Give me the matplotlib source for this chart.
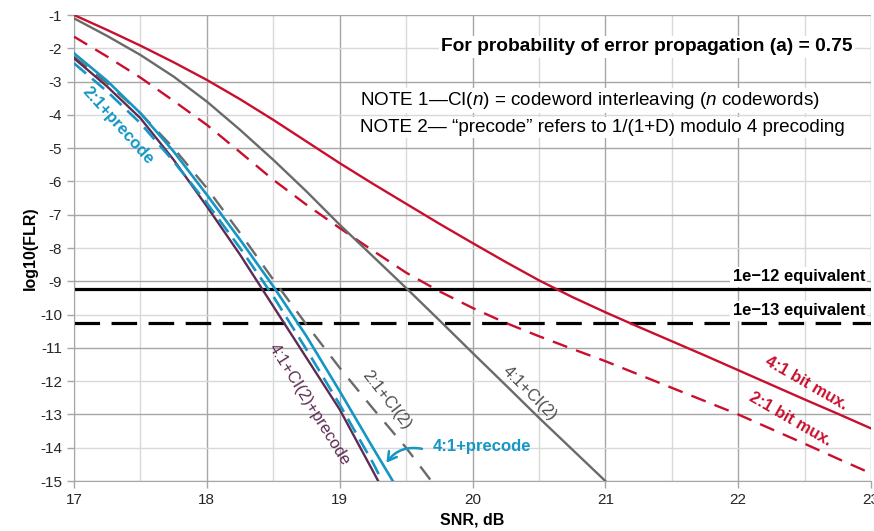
import matplotlib
matplotlib.use("Agg")
import matplotlib.pyplot as plt
from matplotlib.patches import FancyArrowPatch

plt.rcParams['font.family'] = ['Liberation Sans', 'DejaVu Sans']
plt.rcParams['mathtext.fontset'] = 'custom'
plt.rcParams['mathtext.rm'] = 'Liberation Sans'
plt.rcParams['mathtext.it'] = 'Liberation Sans:italic'
plt.rcParams['axes.unicode_minus'] = False

# SNR (dB) sample points and log10(FLR) for each scheme
snr_mux = [17, 17.25, 17.5, 17.75, 18, 18.25, 18.5, 18.75, 19, 19.25, 19.5, 19.75, 20,
           20.25, 20.5, 20.75, 21, 21.25, 21.5, 21.75, 22, 22.25, 22.5, 22.75, 23]
flr_4to1_mux = [-1.0, -1.45, -1.92, -2.42, -2.95, -3.53, -4.15, -4.8, -5.45, -6.07, -6.67,
                -7.27, -7.85, -8.42, -8.97, -9.47, -9.93, -10.37, -10.8, -11.23, -11.67,
                -12.11, -12.55, -12.98, -13.42]
flr_2to1_mux = [-1.65, -2.25, -2.88, -3.58, -4.3, -5.12, -5.95, -6.7, -7.4, -8.08, -8.74,
                -9.3, -9.8, -10.25, -10.65, -11.03, -11.4, -11.8, -12.2, -12.6, -13.0,
                -13.44, -13.88, -14.33, -14.77]

snr_4to1_ci2 = [17, 17.25, 17.5, 17.75, 18, 18.25, 18.5, 18.75, 19, 19.25, 19.5, 19.75,
                20, 20.25, 20.5, 20.75, 21]
flr_4to1_ci2 = [-1.1, -1.63, -2.2, -2.85, -3.6, -4.45, -5.35, -6.3, -7.3, -8.25, -9.2,
                -10.17, -11.15, -12.12, -13.1, -14.05, -15.0]

snr_2to1_ci2 = [17, 17.25, 17.5, 17.75, 18, 18.25, 18.5, 18.75, 19, 19.25, 19.5, 19.69]
flr_2to1_ci2 = [-2.25, -3.05, -3.95, -5.0, -6.2, -7.55, -8.95, -10.3, -11.6, -12.82, -14.0,
                -15.0]

snr_4to1_pre = [17, 17.25, 17.5, 17.75, 18, 18.25, 18.5, 18.75, 19, 19.25, 19.4]
flr_4to1_pre = [-2.15, -2.98, -3.95, -5.1, -6.4, -7.75, -9.15, -10.65, -12.3, -14.0, -15.0]

snr_2to1_pre = [17, 17.25, 17.5, 17.75, 18, 18.25, 18.5, 18.75, 19, 19.25, 19.32]
flr_2to1_pre = [-2.45, -3.3, -4.25, -5.4, -6.65, -8.0, -9.45, -11.05, -12.7, -14.45, -15.0]

snr_4to1_ci2_pre = [17, 17.25, 17.5, 17.75, 18, 18.25, 18.5, 18.75, 19, 19.25, 19.29]
flr_4to1_ci2_pre = [-2.3, -3.15, -4.1, -5.35, -6.75, -8.2, -9.75, -11.3, -12.85, -14.7, -15.0]

flr_1e12_equiv = -9.22
flr_1e13_equiv = -10.25

x_ticks = [17, 18, 19, 20, 21, 22, 23]
y_ticks = list(range(-15, 0))

RED = '#c8102e'
GREY = '#6a6a6a'
BLUE = '#1596c4'
PURPLE = '#5e2b55'

fig = plt.figure(figsize=(8.74, 5.31), dpi=100)
ax = fig.add_axes([74 / 874, 1 - 481 / 531, (871 - 74) / 874, (481 - 15) / 531])

ax.set_xlim(17, 23)
ax.set_ylim(-15, -1)

# grid: darker at integer SNR / odd log values, lighter in between
for x in [17.5 + i for i in range(6)]:
    ax.axvline(x, color='#d9d9d9', lw=1.0, zorder=0)
for x in x_ticks:
    ax.axvline(x, color='#a6a6a6', lw=1.0, zorder=0)
for y in y_ticks:
    ax.axhline(y, color='#a6a6a6' if y % 2 else '#d9d9d9', lw=1.0, zorder=0)

ax.set_xticks(x_ticks)
ax.set_yticks(y_ticks)
ax.tick_params(axis='both', colors='#a6a6a6', labelcolor='#262626', labelsize=11,
               length=5, width=1.0, direction='out')
for s in ['top', 'right']:
    ax.spines[s].set_visible(False)
for s in ['left', 'bottom']:
    ax.spines[s].set_color('#a6a6a6')

ax.set_xlabel('SNR, dB', fontsize=11.5, fontweight='bold', labelpad=4)
ax.set_ylabel('log10(FLR)', fontsize=11.5, fontweight='bold', labelpad=2)

# threshold lines
ax.axhline(flr_1e12_equiv, color='black', lw=2.3, zorder=2)
ax.axhline(flr_1e13_equiv, color='black', lw=2.3, dashes=(8, 3.6), zorder=2)

# curves
ax.plot(snr_mux, flr_4to1_mux, color=RED, lw=1.7, zorder=3)
ax.plot(snr_mux, flr_2to1_mux, color=RED, lw=1.7, dashes=(6.5, 4), zorder=3)
ax.plot(snr_4to1_ci2, flr_4to1_ci2, color=GREY, lw=1.7, zorder=3)
ax.plot(snr_2to1_ci2, flr_2to1_ci2, color=GREY, lw=1.7, dashes=(7, 5), zorder=3)
ax.plot(snr_4to1_ci2_pre, flr_4to1_ci2_pre, color=PURPLE, lw=1.7, zorder=4)
ax.plot(snr_2to1_pre, flr_2to1_pre, color=BLUE, lw=1.9, dashes=(6, 3), zorder=4)
ax.plot(snr_4to1_pre, flr_4to1_pre, color=BLUE, lw=1.9, zorder=4)

white = dict(facecolor='white', edgecolor='none', pad=1.5)

ax.text(22.86, -1.96, 'For probability of error propagation (a) = 0.75', ha='right', va='center',
        fontsize=13.8, fontweight='bold', color='black', bbox=white, zorder=5)
ax.text(19.15, -3.58, 'NOTE 1\u2014CI($\\mathit{n}$) = codeword interleaving ($\\mathit{n}$ codewords)',
        ha='left', va='center', fontsize=13.6, color='black', bbox=white, zorder=5)
ax.text(19.15, -4.39, 'NOTE 2\u2014 \u201cprecode\u201d refers to 1/(1+D) modulo 4 precoding',
        ha='left', va='center', fontsize=13.6, color='black', bbox=white, zorder=5)

ax.text(22.955, -8.87, '1e\u221212 equivalent', ha='right', va='center', fontsize=11.9,
        fontweight='bold', color='black', bbox=white, zorder=5)
ax.text(22.955, -9.89, '1e\u221213 equivalent', ha='right', va='center', fontsize=11.9,
        fontweight='bold', color='black', bbox=white, zorder=5)

# curve labels
def label(x, y, s, color, rot, bold=False):
    ax.text(x, y, s, color=color, fontsize=12, rotation=rot, rotation_mode='anchor',
            ha='center', va='center', fontweight='bold' if bold else 'normal', zorder=6)

label(17.33, -4.33, '2:1+precode', BLUE, -48, bold=True)
label(18.77, -12.71, '4:1+CI(2)+precode', PURPLE, -58)
label(19.35, -12.57, '2:1+CI(2)', '#4d4d4d', -52)
label(20.43, -12.38, '4:1+CI(2)', '#4d4d4d', -45)
label(22.51, -12.05, '4:1 bit mux.', RED, -30, bold=True)
label(22.39, -13.14, '2:1 bit mux.', RED, -30, bold=True)
ax.text(20.07, -13.95, '4:1+precode', color=BLUE, fontsize=12, fontweight='bold',
        ha='center', va='center', zorder=6)

arrow = FancyArrowPatch((19.64, -14.05), (19.34, -14.52), connectionstyle='arc3,rad=0.35',
                        arrowstyle='->,head_length=6,head_width=3.5', color=BLUE, lw=1.8,
                        zorder=6)
ax.add_patch(arrow)

fig.savefig('out.png', dpi=100)
